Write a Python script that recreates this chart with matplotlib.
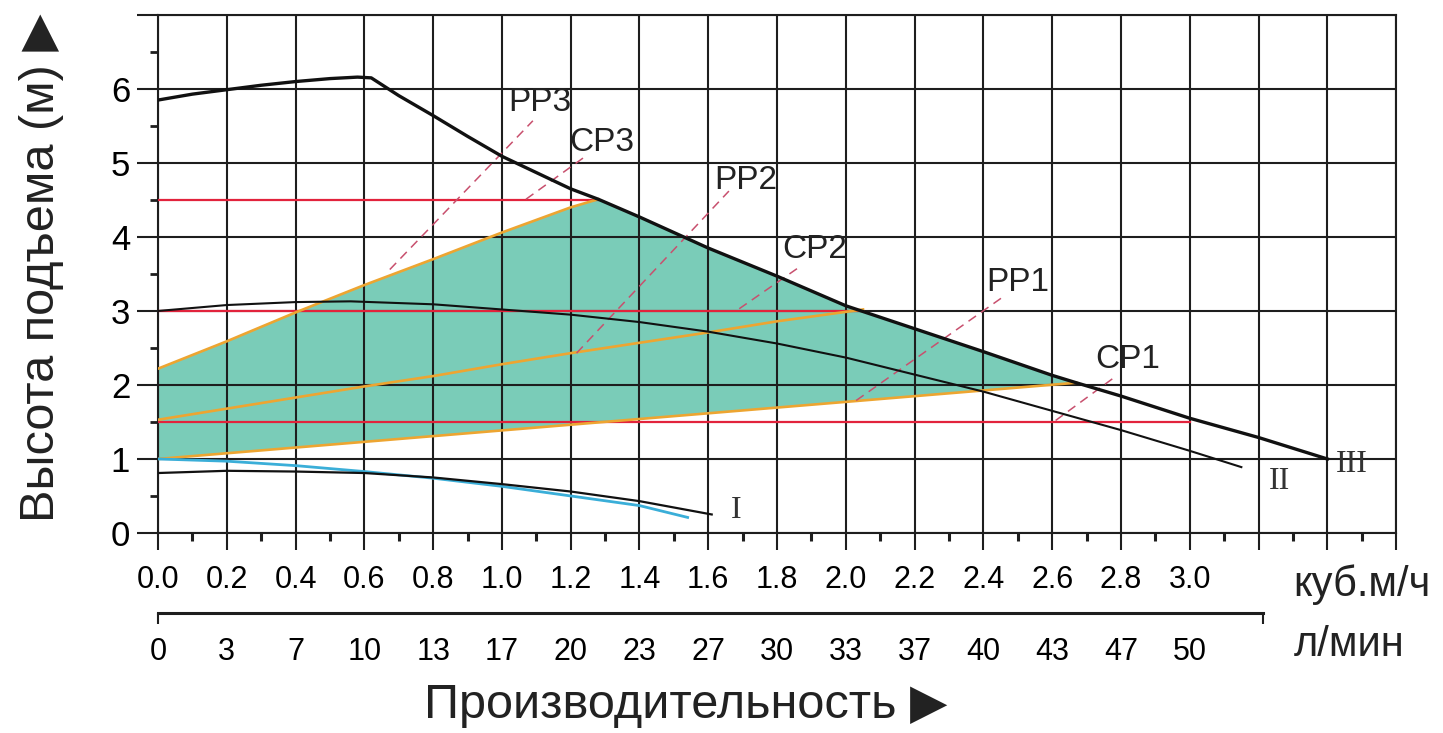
import numpy as np
import matplotlib
matplotlib.use("Agg")
import matplotlib.pyplot as plt

plt.rcParams['font.family'] = ['Liberation Sans', 'DejaVu Sans']

# flow ticks (куб.м/ч) and matching л/мин labels
flow_ticks = [0.0, 0.2, 0.4, 0.6, 0.8, 1.0, 1.2, 1.4, 1.6, 1.8, 2.0, 2.2, 2.4, 2.6, 2.8, 3.0]
lmin_labels = ["0", "3", "7", "10", "13", "17", "20", "23", "27", "30",
               "33", "37", "40", "43", "47", "50"]

# pump curve III (top)
flow_iii = [0, 0.1, 0.2, 0.3, 0.4, 0.5, 0.58, 0.62, 0.7, 0.8, 0.9, 1.0, 1.1, 1.2,
            1.28, 1.4, 1.6, 1.8, 2.0, 2.2, 2.4, 2.6, 2.67, 2.8, 3.0, 3.2, 3.4]
head_iii = [5.85, 5.93, 5.99, 6.05, 6.10, 6.14, 6.16, 6.15, 5.91, 5.64, 5.36, 5.09, 4.87, 4.65,
            4.51, 4.27, 3.85, 3.47, 3.07, 2.76, 2.45, 2.13, 2.03, 1.85, 1.55, 1.29, 1.0]

# pump curve II
flow_ii = [0, 0.2, 0.4, 0.56, 0.8, 1.0, 1.2, 1.4, 1.6, 1.8, 2.0, 2.2, 2.4, 2.6, 2.8, 3.0, 3.15]
head_ii = [3.0, 3.08, 3.12, 3.13, 3.09, 3.02, 2.95, 2.85, 2.72, 2.56, 2.37, 2.14, 1.91, 1.65, 1.39, 1.11, 0.89]

# pump curve I
flow_i = [0, 0.2, 0.4, 0.6, 0.8, 1.0, 1.2, 1.4, 1.61]
head_i = [0.81, 0.84, 0.83, 0.81, 0.75, 0.66, 0.56, 0.43, 0.25]

# blue curve
flow_blue = [0, 0.2, 0.4, 0.6, 0.8, 1.0, 1.2, 1.4, 1.54]
head_blue = [1.0, 0.97, 0.91, 0.83, 0.74, 0.63, 0.50, 0.37, 0.21]

# orange control lines (CP3, CP2, CP1)
flow_cp3 = [0, 0.2, 0.4, 0.6, 0.8, 1.0, 1.2, 1.28]
head_cp3 = [2.22, 2.59, 2.98, 3.35, 3.70, 4.06, 4.40, 4.51]
flow_cp2 = [0, 0.2, 0.4, 0.6, 0.8, 1.0, 1.2, 1.4, 1.6, 1.8, 2.05]
head_cp2 = [1.53, 1.68, 1.83, 1.98, 2.12, 2.28, 2.43, 2.57, 2.71, 2.86, 3.02]
flow_cp1 = [0, 2.67]
head_cp1 = [1.0, 2.03]

# red constant-pressure lines
red_heads = [4.5, 3.0, 1.5]
red_ends = [1.28, 2.05, 3.0]

# dashed system lines
dash_names = ["PP3", "CP3", "PP2", "CP2", "PP1", "CP1"]
dash_x0 = [0.674, 1.07, 1.217, 1.69, 2.03, 2.61]
dash_y0 = [3.56, 4.51, 2.43, 3.03, 1.79, 1.52]
dash_x1 = [1.09, 1.24, 1.66, 1.87, 2.46, 2.78]
dash_y1 = [5.57, 5.08, 4.62, 3.61, 3.20, 2.10]
label_x = [1.11, 1.29, 1.71, 1.91, 2.50, 2.82]
label_y = [5.82, 5.28, 4.76, 3.83, 3.39, 2.35]

fig = plt.figure(figsize=(14.43, 7.33), dpi=100)
ax = fig.add_axes([0.1095, 0.2729, 0.858, 0.7067])

grid_c = "#1e1e1e"

# teal working area
seg = [(x, y) for x, y in zip(flow_iii, head_iii) if 1.28 <= x <= 2.67]
poly_x = flow_cp3 + [p[0] for p in seg] + flow_cp1[::-1]
poly_y = head_cp3 + [p[1] for p in seg] + head_cp1[::-1]
ax.fill(poly_x, poly_y, color="#7accb8", lw=0, zorder=1)

# red lines
for h, e in zip(red_heads, red_ends):
    ax.plot([0, e], [h, h], color="#e2233c", lw=1.6, zorder=3)

# orange lines
for fx, hy in [(flow_cp3, head_cp3), (flow_cp2, head_cp2), (flow_cp1, head_cp1)]:
    ax.plot(fx, hy, color="#eda531", lw=1.9, zorder=3)

# dashed lines
for x0, y0, x1, y1 in zip(dash_x0, dash_y0, dash_x1, dash_y1):
    ax.plot([x0, x1], [y0, y1], color="#c8506e", lw=1.1, ls=(0, (6, 4)), zorder=3)
for name, lx, ly in zip(dash_names, label_x, label_y):
    ax.text(lx, ly, name, fontsize=24, ha="center", va="center", color="#222222", zorder=5)

# pump curves
ax.plot(flow_blue, head_blue, color="#3aaed8", lw=2.0, zorder=4)
ax.plot(flow_i, head_i, color="#111111", lw=1.6, zorder=4)
ax.plot(flow_ii, head_ii, color="#111111", lw=1.5, zorder=4)
ax.plot(flow_iii, head_iii, color="#111111", lw=2.4, zorder=4)

ax.text(1.68, 0.31, "I", family="Liberation Serif", fontsize=23, ha="center", va="center", color="#333333")
ax.text(3.26, 0.69, "II", family="Liberation Serif", fontsize=23, ha="center", va="center", color="#333333")
ax.text(3.47, 0.92, "III", family="Liberation Serif", fontsize=23, ha="center", va="center", color="#333333")

# axes and grid
ax.set_xlim(0, 3.6)
ax.set_ylim(0, 7)
ax.set_xticks(np.arange(0, 3.61, 0.2))
ax.set_xticklabels([f"{v:.1f}" for v in flow_ticks] + ["", "", ""])
ax.set_xticks(np.arange(0.1, 3.6, 0.2), minor=True)
ax.set_yticks(range(0, 8))
ax.set_yticklabels([str(v) for v in range(0, 7)] + [""])
ax.set_yticks(np.arange(0.5, 7, 1.0), minor=True)
ax.grid(True, which="major", color=grid_c, lw=1.5)
for s in ax.spines.values():
    s.set_color(grid_c)
    s.set_linewidth(1.5)
ax.tick_params(axis="x", which="major", length=12, width=1.5, color=grid_c, pad=11, labelsize=22)
ax.tick_params(axis="x", which="minor", length=5.5, width=2.2, color=grid_c)
ax.tick_params(axis="y", which="major", length=15, width=1.5, color=grid_c, pad=5, labelsize=25)
ax.tick_params(axis="y", which="minor", length=6, width=2, color=grid_c)

# second scale in л/мин
sec = ax.secondary_xaxis(-0.1544)
sec.xaxis.remove_overlapping_locs = False
sec.set_xticks(flow_ticks)
sec.set_xticklabels(lmin_labels)
sec.set_xticks([0, 3.212], minor=True)
sec.tick_params(axis="x", which="major", length=0, pad=17, labelsize=22)
sec.tick_params(axis="x", which="minor", length=8, width=1.5, color=grid_c)
sec.spines["bottom"].set_bounds(0, 3.212)
sec.spines["bottom"].set_linewidth(2.2)
sec.spines["bottom"].set_color(grid_c)

# units and axis titles
ax.text(0.917, -0.10, "куб.м/ч", transform=ax.transAxes, fontsize=30, ha="left", va="center", color="#222222")
ax.text(0.917, -0.216, "л/мин", transform=ax.transAxes, fontsize=30, ha="left", va="center", color="#222222")
fig.text(0.475, 0.038, "Производительность ▶", fontsize=35, ha="center", va="center", color="#222222")
fig.text(0.029, 0.635, "Высота подъема (м) ▶", fontsize=35, rotation=90, ha="center", va="center", color="#222222")

fig.savefig("out.png", dpi=100)
